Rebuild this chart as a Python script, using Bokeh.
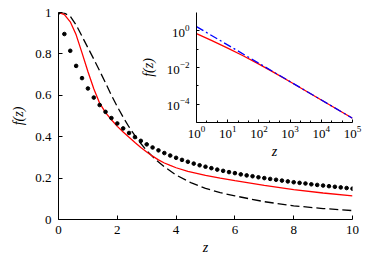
from bokeh.plotting import figure
from bokeh.models import GridBox, FixedTicker, Range1d, NumeralTickFormatter
from bokeh.embed import file_html
from bokeh.resources import INLINE

# ---- main panel data ----
dot_z = [0.0, 0.2, 0.4, 0.6, 0.8, 1.0, 1.2, 1.4, 1.6, 1.8, 2.0, 2.2, 2.4, 2.6, 2.8,
         3.0, 3.2, 3.4, 3.6, 3.8, 4.0, 4.2, 4.4, 4.6, 4.8, 5.0, 5.2, 5.4, 5.6, 5.8,
         6.0, 6.2, 6.4, 6.6, 6.8, 7.0, 7.2, 7.4, 7.6, 7.8, 8.0, 8.2, 8.4, 8.6, 8.8,
         9.0, 9.2, 9.4, 9.6, 9.8, 10.0]
dot_f = [1.0, 0.896, 0.815, 0.742, 0.683, 0.633, 0.589, 0.553, 0.520, 0.490, 0.464,
         0.440, 0.418, 0.398, 0.380, 0.363, 0.348, 0.334, 0.321, 0.309, 0.298, 0.288,
         0.279, 0.270, 0.262, 0.255, 0.248, 0.241, 0.235, 0.229, 0.224, 0.218, 0.213,
         0.209, 0.204, 0.200, 0.196, 0.192, 0.188, 0.184, 0.180, 0.177, 0.174, 0.170,
         0.167, 0.164, 0.161, 0.158, 0.155, 0.152, 0.149]

red_z = [0.0, 0.2, 0.4, 0.6, 0.8, 1.0, 1.2, 1.4, 1.6, 1.8, 2.0, 2.2, 2.4, 2.6, 2.8,
         3.0, 3.2, 3.4, 3.6, 3.8, 4.0, 4.4, 5.0, 5.5, 6.0, 7.0, 8.0, 9.0, 10.0]
red_f = [1.0, 0.990, 0.955, 0.892, 0.805, 0.715, 0.632, 0.562, 0.516, 0.482, 0.450,
         0.423, 0.397, 0.372, 0.348, 0.326, 0.306, 0.288, 0.273, 0.261, 0.250, 0.232,
         0.213, 0.200, 0.188, 0.165, 0.144, 0.128, 0.114]

dash_z = [0.0, 0.2, 0.4, 0.6, 0.8, 1.0, 1.2, 1.4, 1.6, 1.8, 2.0, 2.2, 2.4, 2.6, 2.8,
          3.0, 3.3, 3.6, 4.0, 4.5, 5.0, 5.5, 6.0, 7.0, 8.0, 9.0, 10.0]
dash_f = [1.0, 0.997, 0.982, 0.940, 0.885, 0.830, 0.775, 0.718, 0.660, 0.600, 0.545,
          0.494, 0.447, 0.405, 0.367, 0.333, 0.290, 0.255, 0.215, 0.178, 0.150, 0.130,
          0.114, 0.086, 0.066, 0.053, 0.043]

x_ticks = [0, 2, 4, 6, 8, 10]
y_ticks = [0, 0.2, 0.4, 0.6, 0.8, 1.0]

# ---- inset data (log-log) ----
inset_z = [1, 3, 10, 30, 100, 300, 1000, 10000, 100000]
inset_red = [0.71, 0.30, 0.114, 0.045, 0.0152, 0.0054, 0.00166, 0.000169, 0.000017]
inset_blue_z = [1, 100000]
inset_blue = [1.7, 0.000017]

inset_x_ticks = [1, 10, 100, 1000, 10000, 100000]
inset_x_minor = [2.15, 4.64, 21.5, 46.4, 215, 464, 2150, 4640, 21500, 46400]
inset_y_ticks = [1e-4, 1e-2, 1]
inset_y_minor = [1e-3, 1e-1]

FONT = "Liberation Serif"

# ---- main figure ----
p = figure(width=366, height=258, output_backend="svg", toolbar_location=None,
           x_range=Range1d(0, 10), y_range=Range1d(0, 1),
           min_border_left=58, min_border_right=14, min_border_top=12, min_border_bottom=39)
p.outline_line_color = None
p.xgrid.visible = False
p.ygrid.visible = False
p.background_fill_color = "white"

p.line(dash_z, dash_f, line_color="black", line_width=1.3, line_dash="9 4")
p.line(red_z, red_f, line_color="#ff0000", line_width=1.3)
p.scatter(dot_z, dot_f, size=3.6, color="black")

for ax in (p.xaxis[0], p.yaxis[0]):
    ax.axis_line_color = "black"
    ax.major_tick_line_color = "black"
    ax.major_tick_in = 4
    ax.major_tick_out = 0
    ax.minor_tick_line_color = None
    ax.major_label_text_font = FONT
    ax.major_label_text_font_size = "13px"
    ax.major_label_text_color = "black"
    ax.axis_label_text_font = FONT
    ax.axis_label_text_font_size = "14px"
    ax.axis_label_text_font_style = "italic"
    ax.axis_label_text_color = "black"

p.xaxis.ticker = FixedTicker(ticks=x_ticks)
p.yaxis.ticker = FixedTicker(ticks=y_ticks)
p.yaxis.formatter = NumeralTickFormatter(format="0.[0]")
p.xaxis.axis_label = "z"
p.yaxis.axis_label = "f(z)"
p.xaxis.major_label_standoff = 6
p.yaxis.major_label_standoff = 7
p.xaxis.axis_label_standoff = 3
p.yaxis.axis_label_standoff = 6

# ---- inset figure ----
q = figure(width=241, height=168, output_backend="svg", toolbar_location=None,
           x_axis_type="log", y_axis_type="log",
           x_range=Range1d(1, 1e5), y_range=Range1d(1e-5, 10),
           min_border_left=71, min_border_right=13, min_border_top=12, min_border_bottom=46)
q.outline_line_color = None
q.xgrid.visible = False
q.ygrid.visible = False
q.background_fill_alpha = 0
q.border_fill_alpha = 0

q.line(inset_z, inset_red, line_color="#ff0000", line_width=1.3)
q.line(inset_blue_z, inset_blue, line_color="#0000ff", line_width=1.3, line_dash="8 3 2 3")

for ax in (q.xaxis[0], q.yaxis[0]):
    ax.axis_line_color = "black"
    ax.major_tick_line_color = "black"
    ax.minor_tick_line_color = "black"
    ax.major_tick_in = 3
    ax.major_tick_out = 0
    ax.minor_tick_in = 2
    ax.minor_tick_out = 0
    ax.major_label_text_font = FONT
    ax.major_label_text_font_size = "13px"
    ax.major_label_text_color = "black"
    ax.axis_label_text_font = FONT
    ax.axis_label_text_font_size = "14px"
    ax.axis_label_text_font_style = "italic"
    ax.axis_label_text_color = "black"

q.xaxis.ticker = FixedTicker(ticks=inset_x_ticks, minor_ticks=inset_x_minor)
q.yaxis.ticker = FixedTicker(ticks=inset_y_ticks, minor_ticks=inset_y_minor)
q.xaxis.axis_label = "z"
q.yaxis.axis_label = "f(z)"
q.xaxis.major_label_standoff = 3
q.yaxis.major_label_standoff = 7
q.xaxis.axis_label_standoff = 3
q.yaxis.axis_label_standoff = 8

grid = GridBox(children=[(p, 0, 0, 2, 2), (q, 0, 1, 1, 1)],
               rows=["168px", "90px"], cols=["125px", "241px"], spacing=0)

open("out.html", "w").write(file_html(grid, INLINE))
